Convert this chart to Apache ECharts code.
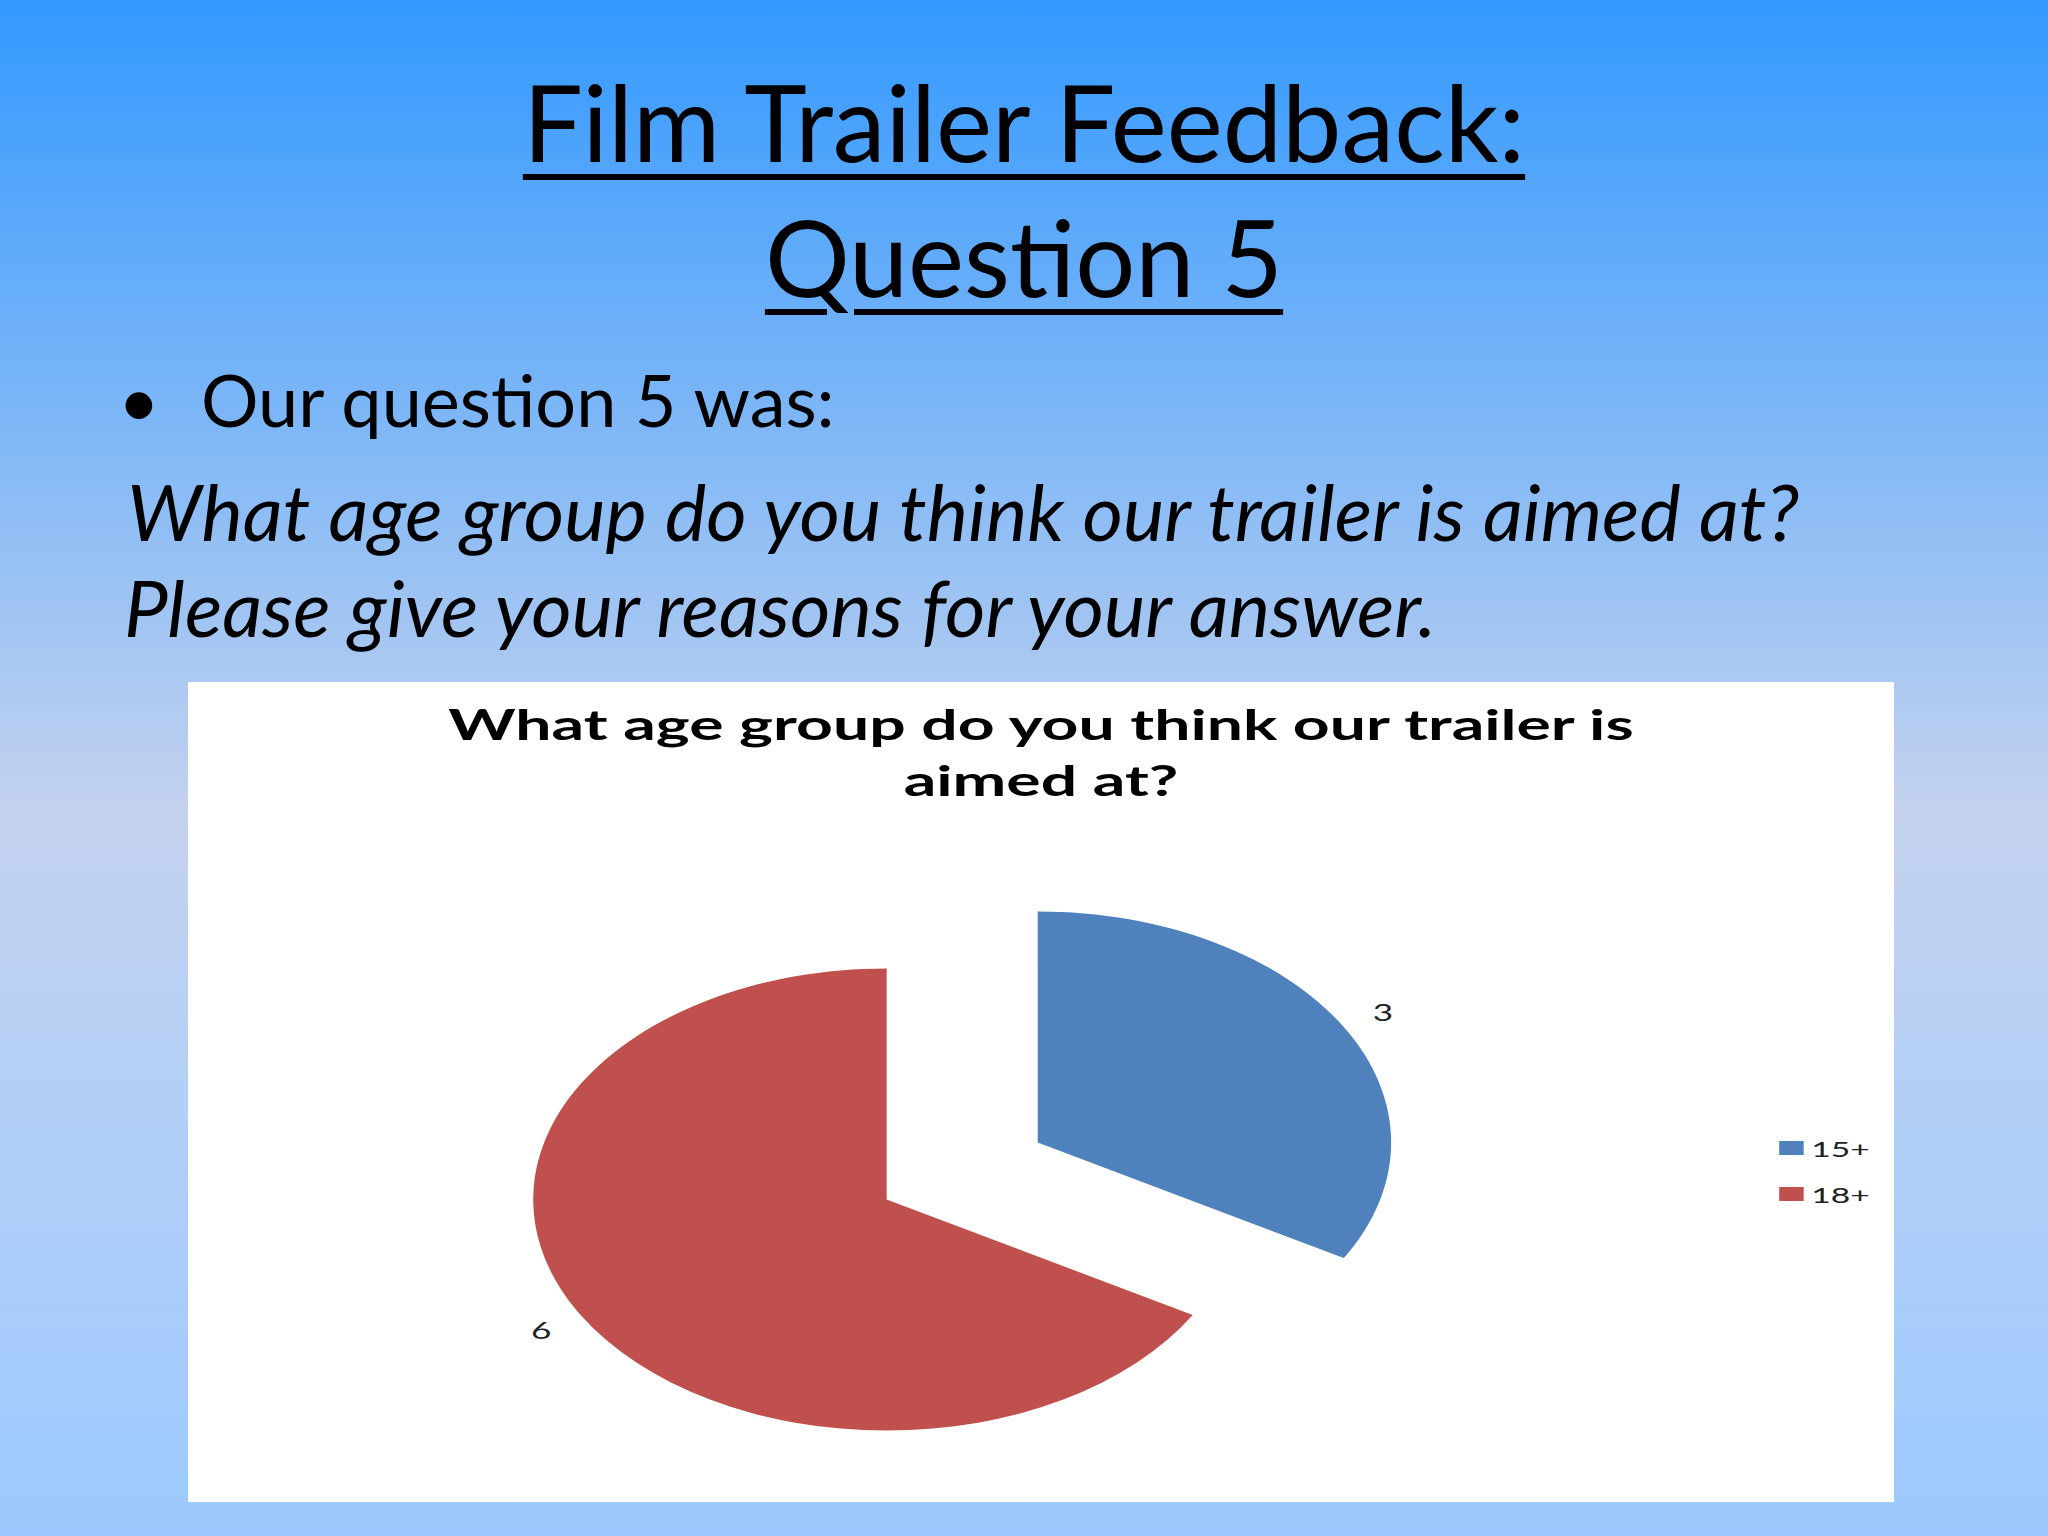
<!DOCTYPE html>
<html>
<head>
<meta charset="utf-8">
<script src="https://cdn.jsdelivr.net/npm/echarts@6/dist/echarts.min.js"></script>
<style>
  html, body { margin: 0; padding: 0; }
  body {
    width: 2048px; height: 1536px; position: relative; overflow: hidden;
    background: linear-gradient(to bottom, #3399FF 0%, #8DBDF5 33%, #C4D2EE 53%, #B3CFF6 72%, #9CC9FF 100%);
    font-family: Lato, "Open Sans", sans-serif; color: #000;
  }
  .t { position: absolute; white-space: nowrap; line-height: 1; }
  .title { font-size: 106px; left: 0; width: 2048px; text-align: center; }
  .title span { text-decoration: underline; text-decoration-thickness: 6px; text-underline-offset: 12px; }
  .body1 { font-size: 72px; }
  .ital { font-size: 78px; font-style: italic; }
  #chartWrap { position: absolute; left: 188px; top: 682px; width: 1115px; height: 820px;
    transform: scaleX(1.53); transform-origin: 0 0; background: #fff; }
  #chart { width: 1115px; height: 820px; }
</style>
</head>
<body>
<div class="t title" style="top:68px"><span>Film Trailer Feedback:</span></div>
<div class="t title" style="top:203px"><span>Question 5</span></div>
<div class="t body1" style="left:118px; top:363px">•</div>
<div class="t body1" style="left:201px; top:363px">Our question 5 was:</div>
<div class="t ital" style="left:127px; top:472px">What age group do you think our trailer is aimed at?</div>
<div class="t ital" style="left:124px; top:568px">Please give your reasons for your answer.</div>
<div id="chartWrap"><div id="chart"></div></div>
<script>
const chartTitle = 'What age group do you think our trailer is\naimed at?';
const categories = ['15+', '18+'];
const values = [3, 6];
const colors = ['#4F81BD', '#C0504D'];

const chart = echarts.init(document.getElementById('chart'), null, { renderer: 'svg' });
chart.setOption({
  animation: false,
  backgroundColor: '#ffffff',
  title: {
    text: chartTitle,
    left: 'center',
    top: 9,
    textStyle: { fontFamily: 'Lato', fontWeight: 'bold', fontSize: 42, lineHeight: 56, color: '#000' }
  },
  legend: {
    orient: 'vertical',
    left: 1035,
    top: 450,
    itemWidth: 16,
    itemHeight: 14,
    itemGap: 24,
    icon: 'rect',
    data: categories,
    textStyle: { fontFamily: 'Lato', fontSize: 22, color: '#222' }
  },
  series: [{
    type: 'pie',
    center: [506, 489],
    radius: 231,
    startAngle: 90,
    clockwise: true,
    selectedMode: 'multiple',
    selectedOffset: 57,
    avoidLabelOverlap: false,
    emphasis: { disabled: true },
    select: { itemStyle: { borderWidth: 0 } },
    label: {
      show: true, position: 'outside', formatter: '{c}',
      fontFamily: 'Lato', fontSize: 23, color: '#222', distanceToLabelLine: -7
    },
    labelLine: { show: false, length: 30, length2: 0 },
    data: categories.map((c, i) => ({
      name: c, value: values[i], selected: true,
      itemStyle: { color: colors[i] },
      select: { itemStyle: { color: colors[i] } }
    }))
  }]
});
</script>
</body>
</html>
